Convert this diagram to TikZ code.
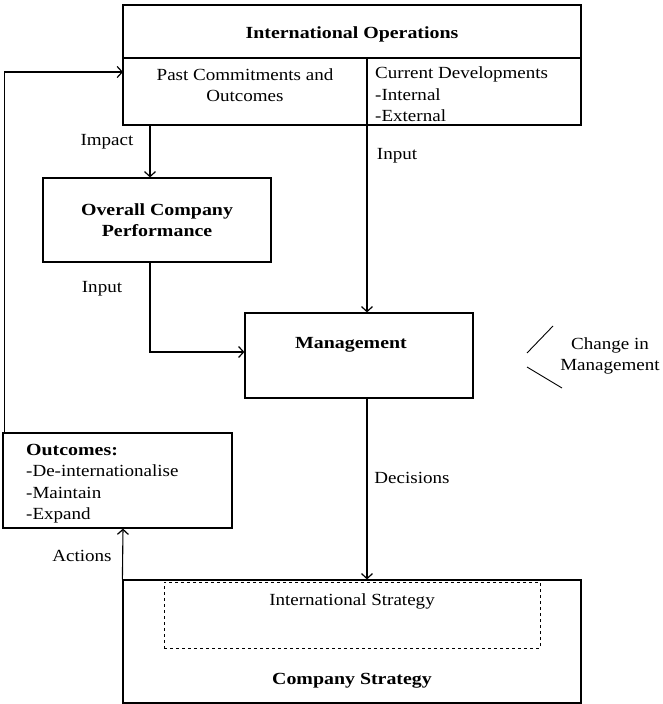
\documentclass[tikz,border=0pt]{standalone}
\usepackage{fontspec}
\setmainfont{Liberation Serif}[FakeStretch=1.12, BoldFeatures={FakeStretch=1.17}]
\usetikzlibrary{arrows.meta}
\newcommand\mysize{\fontsize{17}{21.5}\selectfont}
\begin{document}
\begin{tikzpicture}[x=1pt,y=-1pt,
  font=\mysize,
  box/.style={draw, line width=1.2pt, rectangle, inner sep=0pt},
  dbox/.style={draw, dashed, line width=0.9pt, rectangle, inner sep=0pt},
  txt/.style={inner sep=0pt},
  btxt/.style={inner sep=0pt, font=\mysize\bfseries},
  conn/.style={line width=1.1pt, -{Straight Barb[length=5pt,width=11pt,line width=1.2pt]}},
  plain/.style={line width=1.1pt}]
\useasboundingbox (0,0) rectangle (662,704);

% boxes
\node[box, minimum width=458pt, minimum height=120pt] (io) at (352,65) {};
\node[box, minimum width=228pt, minimum height=84pt] (ocp) at (157,220) {};
\node[box, minimum width=228pt, minimum height=85pt] (mgmt) at (359,355.5) {};
\node[box, minimum width=229pt, minimum height=95pt] (outc) at (117.5,480.5) {};
\node[box, minimum width=458pt, minimum height=123pt] (cs) at (352,641.5) {};
\node[dbox, minimum width=376pt, minimum height=66pt] (is) at (352,615) {};

% dividers of the top box
\coordinate (dl) at (123,58);
\coordinate (dr) at (581,58);
\coordinate (vt) at (367,58);
\draw[plain] (dl) -- (dr);
\draw[plain] (vt) -- (io.south -| vt);

% texts
\node[btxt] (iot) at (352,34) {International Operations};
\node[txt, align=center] (past) at (245,85) {Past Commitments and\\Outcomes};
\node[txt, align=left, anchor=north west] (cur) at (375,67) {Current Developments\\-Internal\\-External};
\node[btxt, align=center] (ocpt) at (157,220) {Overall Company\\Performance};
\node[btxt] (mgt) at (351,345) {Management};
\node[txt, align=left, anchor=north west] (outt) at (26,444) {\textbf{Outcomes:}\\-De-internationalise\\-Maintain\\-Expand};
\node[txt] (ist) at (352,601) {International Strategy};
\node[btxt] (cst) at (352,681) {Company Strategy};
\node[txt, align=center] (chg) at (610,356) {Change in\\Management};

% labels
\node[txt] (limpact) at (107,142) {Impact};
\node[txt] (linput1) at (102,289) {Input};
\node[txt] (linput2) at (397,156) {Input};
\node[txt] (ldec) at (412,478) {Decisions};
\node[txt] (lact) at (82,556) {Actions};

% change marks
\coordinate (c1a) at (553,326);
\coordinate (c1b) at (527,353);
\coordinate (c2a) at (527,367);
\coordinate (c2b) at (562,388);
\draw[line width=0.9pt] (c1a) -- (c1b);
\draw[line width=0.9pt] (c2a) -- (c2b);

% connectors
\coordinate (fbin) at (123,72);
\coordinate (xa) at (150,0);
\coordinate (xb) at (367,0);
\coordinate (xc) at (123,0);
\coordinate (ym) at (0,352);
\draw[conn] ([xshift=2pt]outc.north west) |- (fbin);
\draw[conn] (io.south -| xa) -- (ocp.north -| xa);
\draw[conn] (ocp.south -| xa) |- (mgmt.west |- ym);
\draw[conn] (io.south -| xb) -- (mgmt.north -| xb);
\draw[conn] (mgmt.south -| xb) -- (cs.north -| xb);
\draw[conn] (cs.north west) -- (outc.south -| xc);
\end{tikzpicture}
\end{document}
